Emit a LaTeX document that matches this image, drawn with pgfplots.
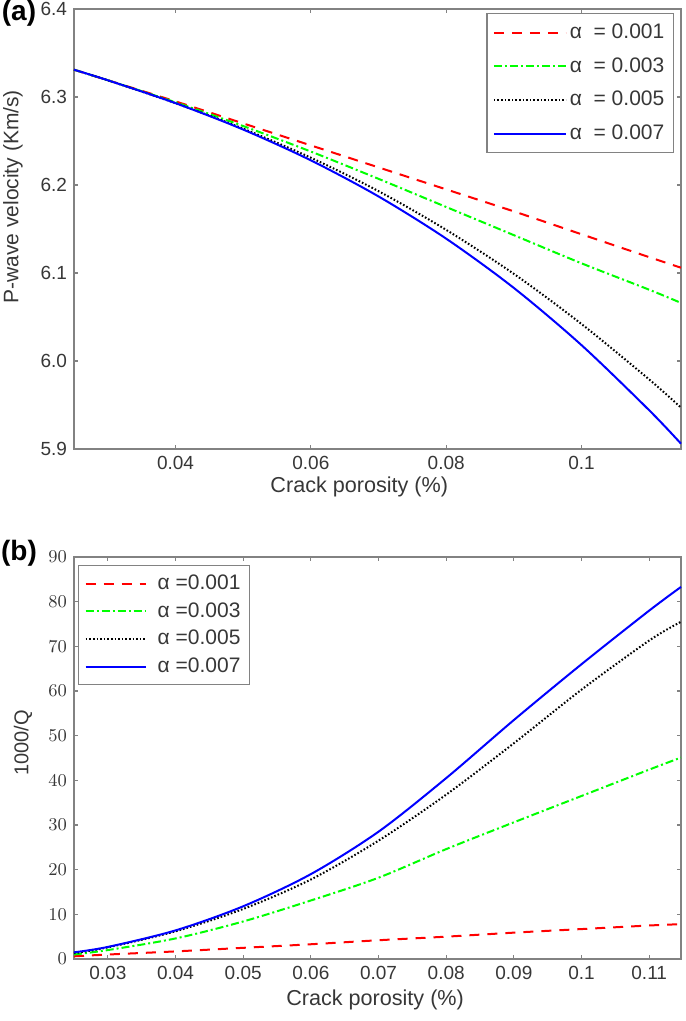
\documentclass[border=0pt]{standalone}
\usepackage{pgfplots}
\pgfplotsset{compat=1.18}
\usepackage{fontspec}
\setmainfont{Liberation Sans}
\definecolor{framegray}{RGB}{130,130,130}
\definecolor{ticktext}{RGB}{55,55,55}
\definecolor{mred}{RGB}{255,0,0}
\definecolor{mgreen}{RGB}{0,255,0}
\definecolor{mblue}{RGB}{0,0,255}
\begin{document}
\begin{tikzpicture}
\useasboundingbox (0,0) rectangle (342.5pt,510.5pt);
\pgfplotsset{
  mystyle/.style={
    scale only axis, width=303.5pt,
    xmin=0.025, xmax=0.1147,
    axis line style={framegray, line width=0.8pt},
    every tick/.style={framegray, line width=0.6pt},
    major tick length=2.2pt,
    tick align=inside,
    ticklabel style={font=\fontsize{9.5}{10}\selectfont, text=ticktext},
    label style={font=\fontsize{10.8}{12}\selectfont, text=ticktext},
    legend cell align=left,
    clip=false,
    every axis plot/.append style={line width=1pt},
  }
}
% ---------------- (a) ----------------
\begin{axis}[mystyle,
  at={(37pt,286pt)}, anchor=south west,
  height=220pt,
  ymin=5.9, ymax=6.4,
  xtick={0.04,0.06,0.08,0.1}, xticklabels={0.04,0.06,0.08,0.1},
  ytick={5.9,6.0,6.1,6.2,6.3,6.4}, yticklabels={5.9,6.0,6.1,6.2,6.3,6.4},
  xlabel={Crack porosity (\%)},
  ylabel={P-wave velocity (Km/s)},
  xlabel style={at={(axis description cs:0.47,0)}, anchor=center, yshift=-19pt},
  ylabel style={at={(axis description cs:-0.1005,0.573)}, anchor=center, font=\fontsize{10.5}{12}\selectfont},
  legend image code/.code={\draw[#1] (0pt,0pt) -- (36pt,0pt);},
  legend style={at={(1,1)}, anchor=north east, xshift=-3.5pt, yshift=-2pt,
    draw=framegray, line width=0.7pt, font=\fontsize{10.5}{11}\selectfont, text=ticktext,
    inner xsep=3pt, inner ysep=3.5pt, row sep=5pt,
    nodes={inner sep=1.5pt}},
]
\addplot[mred, dash pattern=on 5pt off 4pt, smooth] coordinates {
(0.025,6.331)(0.03,6.319)(0.04,6.295)(0.05,6.270)(0.06,6.245)(0.07,6.220)(0.08,6.195)(0.09,6.170)(0.1,6.144)(0.11,6.118)(0.1147,6.106)};
\addlegendentry{α\ \ = 0.001}
\addplot[mgreen, dash pattern=on 4pt off 1.5pt on 1pt off 1.5pt, smooth] coordinates {
(0.025,6.331)(0.03,6.319)(0.04,6.294)(0.05,6.267)(0.06,6.238)(0.07,6.207)(0.08,6.175)(0.09,6.143)(0.1,6.111)(0.11,6.081)(0.1147,6.066)};
\addlegendentry{α\ \ = 0.003}
\addplot[black, dash pattern=on 0.8pt off 1pt, smooth] coordinates {
(0.025,6.331)(0.03,6.319)(0.04,6.293)(0.05,6.264)(0.06,6.231)(0.07,6.193)(0.08,6.149)(0.09,6.099)(0.1,6.042)(0.11,5.979)(0.1147,5.947)};
\addlegendentry{α\ \ = 0.005}
\addplot[mblue, solid, smooth] coordinates {
(0.025,6.331)(0.03,6.319)(0.04,6.293)(0.05,6.263)(0.06,6.228)(0.07,6.187)(0.08,6.139)(0.09,6.083)(0.1,6.018)(0.11,5.944)(0.1147,5.906)};
\addlegendentry{α\ \ = 0.007}
\node[font=\bfseries\fontsize{14}{14}\selectfont, text=black, anchor=center] at (rel axis cs:-0.0906,0.99) {(a)};
\end{axis}
% ---------------- (b) ----------------
\begin{axis}[mystyle,
  at={(37pt,31pt)}, anchor=south west,
  height=201pt,
  ymin=0, ymax=90,
  xtick={0.03,0.04,0.05,0.06,0.07,0.08,0.09,0.1,0.11},
  xticklabels={0.03,0.04,0.05,0.06,0.07,0.08,0.09,0.1,0.11},
  ytick={0,10,...,90},
  xlabel={Crack porosity (\%)},
  ylabel={1000/Q},
  xlabel style={at={(axis description cs:0.496,0)}, anchor=center, yshift=-20.5pt},
  ylabel style={at={(axis description cs:-0.084,0.537)}, anchor=center, font=\fontsize{10}{12}\selectfont},
  legend image code/.code={\draw[#1] (0pt,0pt) -- (30pt,0pt);},
  legend style={at={(0,1)}, anchor=north west, xshift=2pt, yshift=-4pt,
    draw=framegray, line width=0.7pt, font=\fontsize{10.5}{11}\selectfont, text=ticktext,
    inner xsep=3pt, inner ysep=3pt, row sep=2pt,
    nodes={inner sep=1.5pt}},
]
\addplot[mred, dash pattern=on 5pt off 4pt, smooth] coordinates {
(0.025,0.6)(0.03,1.0)(0.04,1.7)(0.05,2.5)(0.06,3.3)(0.07,4.2)(0.08,5.0)(0.09,5.9)(0.1,6.7)(0.11,7.5)(0.1147,7.8)};
\addlegendentry{\hspace{4pt}α\ =0.001\hspace{1pt}}
\addplot[mgreen, dash pattern=on 4pt off 1.5pt on 1pt off 1.5pt, smooth] coordinates {
(0.025,1.0)(0.03,2.0)(0.04,4.6)(0.05,8.4)(0.06,13.1)(0.07,18.2)(0.08,24.6)(0.09,30.6)(0.1,36.5)(0.11,42.4)(0.1147,45.1)};
\addlegendentry{\hspace{4pt}α\ =0.003\hspace{1pt}}
\addplot[black, dash pattern=on 0.8pt off 1pt, smooth] coordinates {
(0.025,1.3)(0.03,2.6)(0.04,6.2)(0.05,11.2)(0.06,17.8)(0.07,26.5)(0.08,36.8)(0.09,48.3)(0.1,60.3)(0.11,71.3)(0.1147,75.5)};
\addlegendentry{\hspace{4pt}α\ =0.005\hspace{1pt}}
\addplot[mblue, solid, smooth] coordinates {
(0.025,1.5)(0.03,2.7)(0.04,6.4)(0.05,11.8)(0.06,19.0)(0.07,28.5)(0.08,40.5)(0.09,53.5)(0.1,66.0)(0.11,78.0)(0.1147,83.3)};
\addlegendentry{\hspace{4pt}α\ =0.007\hspace{1pt}}
\node[font=\bfseries\fontsize{14}{14}\selectfont, text=black, anchor=center] at (rel axis cs:-0.0906,1.01) {(b)};
\end{axis}
\end{tikzpicture}
\end{document}
